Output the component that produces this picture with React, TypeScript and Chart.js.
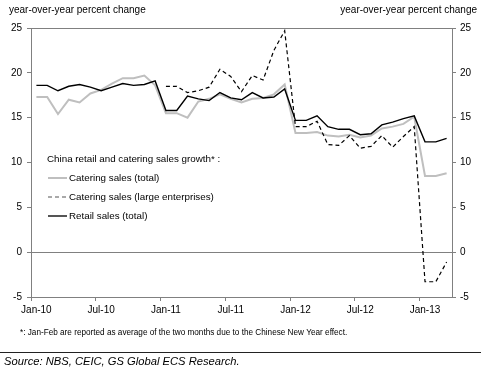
import React, { useEffect, useRef } from "react";
import { Chart, registerables } from "chart.js";

Chart.register(...registerables);

const labels = [
  "Jan-10","Feb-10","Mar-10","Apr-10","May-10","Jun-10","Jul-10","Aug-10","Sep-10","Oct-10","Nov-10","Dec-10",
  "Jan-11","Feb-11","Mar-11","Apr-11","May-11","Jun-11","Jul-11","Aug-11","Sep-11","Oct-11","Nov-11","Dec-11",
  "Jan-12","Feb-12","Mar-12","Apr-12","May-12","Jun-12","Jul-12","Aug-12","Sep-12","Oct-12","Nov-12","Dec-12",
  "Jan-13","Feb-13","Mar-13",
];

const retailTotal = [
  18.6, 18.6, 18.0, 18.5, 18.7, 18.4, 18.0, 18.4, 18.8, 18.6, 18.7, 19.1,
  15.8, 15.8, 17.4, 17.1, 16.9, 17.8, 17.2, 17.0, 17.8, 17.2, 17.3, 18.2,
  14.7, 14.7, 15.2, 14.0, 13.7, 13.7, 13.1, 13.2, 14.2, 14.5, 14.9, 15.2,
  12.3, 12.3, 12.7,
];

const cateringTotal = [
  17.3, 17.3, 15.4, 17.0, 16.7, 17.7, 18.1, 18.8, 19.4, 19.4, 19.7, 18.6,
  15.5, 15.5, 15.0, 16.8, 17.1, 17.6, 17.1, 16.7, 17.1, 17.2, 17.6, 18.7,
  13.3, 13.3, 13.4, 13.0, 12.9, 13.1, 12.8, 13.0, 13.8, 14.0, 14.3, 15.1,
  8.5, 8.5, 8.8,
];

const cateringLarge = [
  null, null, null, null, null, null, null, null, null, null, null, null,
  18.5, 18.5, 17.8, 18.0, 18.4, 20.4, 19.6, 17.9, 19.7, 19.2, 22.5, 24.7,
  14.0, 14.0, 14.6, 12.0, 11.9, 13.0, 11.6, 11.8, 13.0, 11.7, 12.9, 14.0,
  -3.3, -3.3, -1.1,
];

const yTitle = "year-over-year percent change";
const legendTitle = "China retail and catering sales growth* :";
const seriesNames = ["Catering sales (total)", "Catering sales (large enterprises)", "Retail sales (total)"];
const footnote = "*: Jan-Feb are reported as average of the two months due to the Chinese New Year effect.";
const source = "Source: NBS, CEIC, GS Global ECS Research.";

const FONT = '"Liberation Sans", Arial, sans-serif';
const AXIS = "#808080";
const GRAY = "#bfbfbf";

const decorPlugin = {
  id: "decor",
  afterDraw(chart: any) {
    const ctx = chart.ctx;
    const { left, right, top } = chart.chartArea;
    ctx.save();
    ctx.strokeStyle = AXIS;
    ctx.lineWidth = 1;
    ctx.beginPath();
    ctx.moveTo(left, top + 0.5);
    ctx.lineTo(right, top + 0.5);
    ctx.stroke();

    ctx.fillStyle = "#000";
    ctx.textBaseline = "middle";
    ctx.font = `10px ${FONT}`;
    ctx.textAlign = "left";
    ctx.fillText(yTitle, 9, 10);
    ctx.textAlign = "right";
    ctx.fillText(yTitle, 477, 10);

    ctx.textAlign = "left";
    ctx.font = `9.8px ${FONT}`;
    ctx.fillText(legendTitle, 47, 159);
    const ys = [178, 197, 216];
    const styles = [
      { color: GRAY, width: 2, dash: [] as number[] },
      { color: "#555", width: 1.2, dash: [4, 3] },
      { color: "#555", width: 2, dash: [] as number[] },
    ];
    seriesNames.forEach((name, i) => {
      const s = styles[i];
      ctx.strokeStyle = s.color;
      ctx.lineWidth = s.width;
      ctx.setLineDash(s.dash);
      ctx.beginPath();
      ctx.moveTo(48, ys[i]);
      ctx.lineTo(67, ys[i]);
      ctx.stroke();
      ctx.setLineDash([]);
      ctx.fillStyle = "#000";
      ctx.fillText(name, 69, ys[i]);
    });

    ctx.font = `8.2px ${FONT}`;
    ctx.fillText(footnote, 20, 333);

    ctx.strokeStyle = "#222";
    ctx.lineWidth = 1;
    ctx.beginPath();
    ctx.moveTo(0, 352.5);
    ctx.lineTo(481, 352.5);
    ctx.stroke();

    ctx.font = `italic 11.2px ${FONT}`;
    ctx.fillStyle = "#000";
    ctx.fillText(source, 4, 362);
    ctx.restore();
  },
};

export default function App() {
  const ref = useRef<HTMLCanvasElement>(null);
  useEffect(() => {
    document.body.style.margin = "0";
    const canvas = ref.current!;
    const chart = new Chart(canvas, {
      type: "line",
      data: {
        labels,
        datasets: [
          {
            label: seriesNames[0],
            data: cateringTotal,
            borderColor: GRAY,
            borderWidth: 2,
            pointRadius: 0,
            tension: 0,
            order: 2,
            yAxisID: "y",
          },
          {
            label: seriesNames[1],
            data: cateringLarge,
            borderColor: "#000",
            borderWidth: 1.2,
            borderDash: [4, 3],
            pointRadius: 0,
            tension: 0,
            order: 1,
            yAxisID: "y",
          },
          {
            label: seriesNames[2],
            data: retailTotal,
            borderColor: "#000",
            borderWidth: 1.4,
            pointRadius: 0,
            tension: 0,
            order: 0,
            yAxisID: "y",
          },
        ],
      },
      options: {
        responsive: false,
        animation: false,
        devicePixelRatio: 1,
        layout: { padding: { top: 28, left: 0, right: 0, bottom: 0 } },
        plugins: { legend: { display: false }, tooltip: { enabled: false } },
        scales: {
          x: {
            type: "category",
            offset: true,
            afterFit: (s: any) => { s.height = 76; },
            grid: {
              offset: true,
              drawOnChartArea: false,
              tickLength: 4,
              color: (c: any) => (c.index % 6 === 0 ? AXIS : "rgba(0,0,0,0)"),
            },
            border: { color: AXIS, width: 1 },
            ticks: {
              autoSkip: false,
              maxRotation: 0,
              minRotation: 0,
              padding: 3,
              color: "#000",
              font: { family: FONT, size: 10 },
              callback: (_v: any, i: number) => (i % 6 === 0 ? labels[i] : ""),
            },
          },
          y: {
            position: "left",
            min: -5,
            max: 25,
            afterFit: (s: any) => { s.width = 31; },
            ticks: { stepSize: 5, padding: 5, color: "#000", font: { family: FONT, size: 10 } },
            grid: {
              tickLength: 4,
              color: (c: any) => (c.tick && c.tick.value === 0 ? AXIS : "rgba(0,0,0,0)"),
              tickColor: AXIS,
            },
            border: { color: AXIS, width: 1 },
          },
          y2: {
            position: "right",
            min: -5,
            max: 25,
            afterFit: (s: any) => { s.width = 29; },
            ticks: { stepSize: 5, padding: 4, color: "#000", font: { family: FONT, size: 10 } },
            grid: { drawOnChartArea: false, tickLength: 4, color: AXIS },
            border: { color: AXIS, width: 1 },
          },
        },
      },
      plugins: [decorPlugin],
    } as any);
    return () => chart.destroy();
  }, []);
  return <canvas ref={ref} width={481} height={373} style={{ display: "block" }} />;
}
